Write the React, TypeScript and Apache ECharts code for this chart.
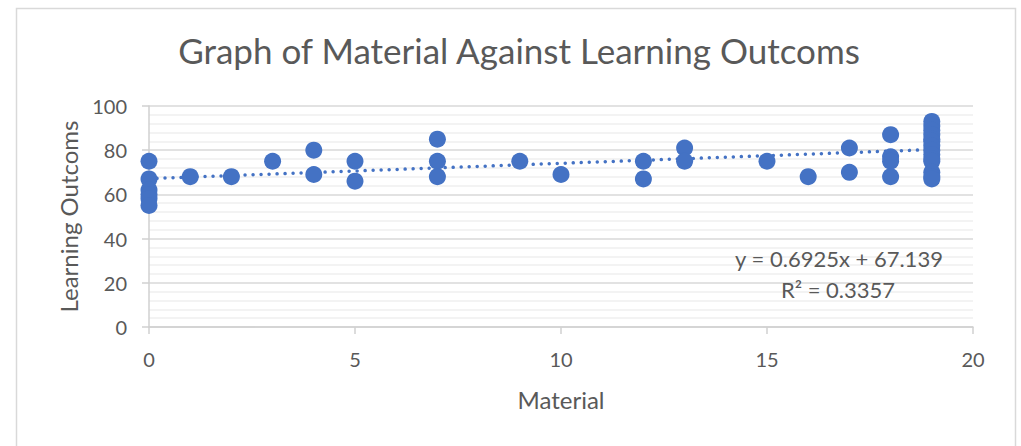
import React, { useEffect, useRef } from "react";
import * as echarts from "echarts";

const TITLE = "Graph of Material Against Learning Outcoms";
const X_NAME = "Material";
const Y_NAME = "Learning Outcoms";

const materialValues = [
  0, 0, 0, 0, 0, 0,
  1, 2, 3, 4, 4, 5, 5,
  7, 7, 7, 9, 10, 12, 12, 13, 13, 15, 16, 17, 17,
  18, 18, 18, 18,
  19, 19, 19, 19, 19, 19, 19, 19, 19, 19, 19, 19, 19, 19,
];
const outcomeValues = [
  75, 67, 62, 60, 58, 55,
  68, 68, 75, 80, 69, 75, 66,
  85, 75, 68, 75, 69, 75, 67, 81, 75, 75, 68, 81, 70,
  87, 77, 75, 68,
  93, 91, 89, 87, 85, 84, 82, 80, 78, 76, 75, 70, 68, 67,
];

const TREND_SLOPE = 0.6925;
const TREND_INTERCEPT = 67.139;
const TREND_X = [0, 19];
const EQUATION_TEXT = "y = 0.6925x + 67.139";
const R2_TEXT = "R² = 0.3357";

const FONT = "Lato, 'Open Sans', sans-serif";
const TEXT_COLOR = "#595959";
const BLUE = "#4472C4";

export default function App() {
  const ref = useRef<HTMLDivElement>(null);

  useEffect(() => {
    if (!ref.current) return;
    const chart = echarts.init(ref.current, undefined, { renderer: "svg" });
    const points = materialValues.map((x, i) => [x, outcomeValues[i]]);
    const trend = TREND_X.map((x) => [x, TREND_SLOPE * x + TREND_INTERCEPT]);

    chart.setOption({
      animation: false,
      backgroundColor: "#ffffff",
      textStyle: { fontFamily: FONT },
      title: {
        text: TITLE,
        left: 514,
        textAlign: "center",
        top: 27,
        textStyle: { fontFamily: FONT, fontSize: 35, fontWeight: "normal", color: TEXT_COLOR },
      },
      grid: { left: 149, right: 48, top: 106, bottom: 119 },
      xAxis: {
        type: "value",
        min: 0,
        max: 20,
        interval: 5,
        name: X_NAME,
        nameLocation: "middle",
        nameGap: 60,
        nameTextStyle: { fontFamily: FONT, fontSize: 24, color: TEXT_COLOR },
        axisLine: { show: true, onZero: false, lineStyle: { color: "#d0d0d0", width: 1.5 } },
        axisTick: { show: true, length: 7, lineStyle: { color: "#d0d0d0", width: 1.5 } },
        axisLabel: { fontFamily: FONT, fontSize: 20, color: TEXT_COLOR, margin: 22 },
        splitLine: { show: false },
      },
      yAxis: {
        type: "value",
        min: 0,
        max: 100,
        interval: 20,
        name: Y_NAME,
        nameLocation: "middle",
        nameGap: 69,
        nameTextStyle: { fontFamily: FONT, fontSize: 24, color: TEXT_COLOR },
        axisLine: { show: true, lineStyle: { color: "#d0d0d0", width: 1.5 } },
        axisTick: { show: true, length: 7, lineStyle: { color: "#d0d0d0", width: 1.5 } },
        axisLabel: { fontFamily: FONT, fontSize: 20, color: TEXT_COLOR, margin: 22 },
        splitLine: { show: true, lineStyle: { color: "#d9d9d9", width: 1.5 } },
        minorTick: { show: false, splitNumber: 5 },
        minorSplitLine: { show: true, lineStyle: { color: "#efefef", width: 1.5 } },
      },
      graphic: [
        {
          type: "rect",
          left: 14,
          top: 6,
          shape: { width: 999, height: 460 },
          style: { fill: "none", stroke: "#d9d9d9", lineWidth: 1.5 },
          silent: true,
          z: 100,
        },
        {
          type: "text",
          x: 839,
          y: 258,
          style: {
            text: EQUATION_TEXT,
            fontFamily: FONT,
            fontSize: 22,
            fill: TEXT_COLOR,
            align: "center",
            verticalAlign: "middle",
          },
          z: 100,
        },
        {
          type: "text",
          x: 838,
          y: 289,
          style: {
            text: R2_TEXT,
            fontFamily: FONT,
            fontSize: 22,
            fill: TEXT_COLOR,
            align: "center",
            verticalAlign: "middle",
          },
          z: 100,
        },
      ],
      series: [
        {
          type: "line",
          data: trend,
          showSymbol: false,
          symbol: "none",
          z: 1,
          lineStyle: { color: BLUE, width: 3.5, type: [0.01, 8], cap: "round" },
          silent: true,
        },
        {
          type: "scatter",
          data: points,
          symbol: "circle",
          symbolSize: 17,
          z: 2,
          itemStyle: { color: BLUE, opacity: 1 },
        },
      ],
    });

    return () => chart.dispose();
  }, []);

  return (
    <div
      ref={ref}
      style={{ position: "fixed", left: 0, top: 0, width: 1021, height: 446 }}
    />
  );
}
